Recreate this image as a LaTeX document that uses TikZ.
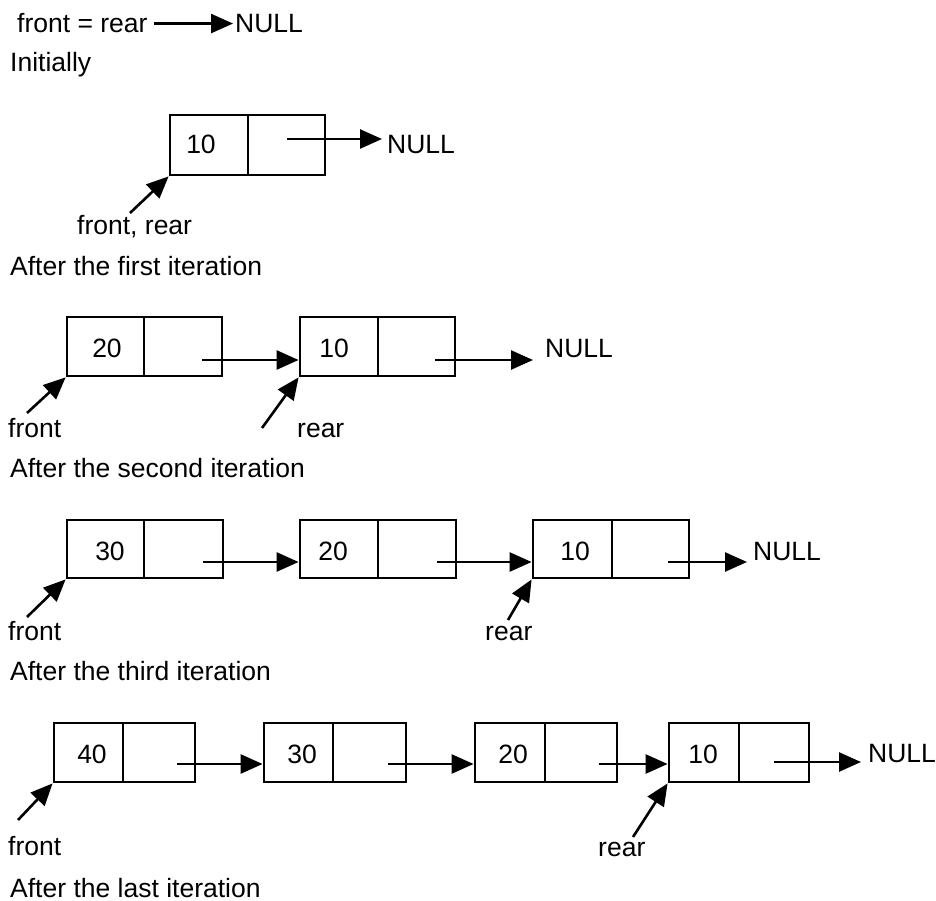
\documentclass[tikz,border=0pt]{standalone}
\usepackage{fontspec}
\setmainfont{Liberation Sans}
\usetikzlibrary{arrows.meta}
\begin{document}
\begin{tikzpicture}[x=1pt,y=-1pt,
  txt/.style={inner sep=0pt, anchor=base west, font=\fontsize{26.5pt}{30pt}\selectfont},
  num/.style={inner sep=0pt, anchor=base, font=\fontsize{26.5pt}{30pt}\selectfont},
  cell/.style={draw, line width=2.8pt, inner sep=0pt, minimum height=59pt},
  link/.style={line width=2.6pt, -{Triangle[length=22pt,width=19pt]}},
]
\useasboundingbox[fill=white] (0,0) rectangle (936,901);

% ---------- Initially ----------
\node[txt] (t0) at (17,33) {front = rear};
\node[txt] (null0) at (235,33) {NULL};
\draw[link, shorten <=6pt, shorten >=2pt] (t0.east) -- (null0.west |- t0.east);
\node[txt] (init) at (10,72) {Initially};

% ---------- first iteration ----------
\node[cell, minimum width=78pt, minimum height=60pt] (r1a) at (209,145) {};
\node[cell, minimum width=77pt, minimum height=60pt] (r1b) at (286.5,145) {};
\node[num] (n1) at (201,154) {10};
\node[txt] (null1) at (387,154) {NULL};
\coordinate (s1) at (287,139);
\draw[link, shorten >=5pt] (s1) -- (null1.west |- s1);
\coordinate (p1) at (130,213);
\draw[link] (p1) -- (r1a.south west);
\node[txt] (l1) at (77,235) {front, rear};
\node[txt] (c1) at (10,275) {After the first iteration};

% ---------- second iteration ----------
\node[cell, minimum width=77pt] (r2a1) at (105.5,346.5) {};
\node[cell, minimum width=78pt] (r2b1) at (183,346.5) {};
\node[cell, minimum width=78pt] (r2a2) at (339,346.5) {};
\node[cell, minimum width=77pt] (r2b2) at (416.5,346.5) {};
\node[num] (n21) at (107,357) {20};
\node[num] (n22) at (334,357) {10};
\node[txt] (null2) at (545,357) {NULL};
\coordinate (s21) at (202,360);
\coordinate (s22) at (435,360);
\draw[link] (s21) -- (r2a2.west |- s21);
\draw[link, shorten >=12pt] (s22) -- (null2.west |- s22);
\coordinate (f2) at (27,413);
\coordinate (q2) at (262,428);
\draw[link] (f2) -- (r2a1.south west);
\draw[link] (q2) -- (r2a2.south west);
\node[txt] (lf2) at (8,437) {front};
\node[txt] (lr2) at (297,437) {rear};
\node[txt] (c2) at (10,477) {After the second iteration};

% ---------- third iteration ----------
\node[cell, minimum width=77pt, minimum height=58pt] (r3a1) at (105.5,549) {};
\node[cell, minimum width=79pt, minimum height=58pt] (r3b1) at (183.5,549) {};
\node[cell, minimum width=78pt, minimum height=58pt] (r3a2) at (339,549) {};
\node[cell, minimum width=78pt, minimum height=58pt] (r3b2) at (417,549) {};
\node[cell, minimum width=79pt, minimum height=58pt] (r3a3) at (572.5,549) {};
\node[cell, minimum width=77pt, minimum height=58pt] (r3b3) at (650.5,549) {};
\node[num] (n31) at (110,560) {30};
\node[num] (n32) at (333,560) {20};
\node[num] (n33) at (575,560) {10};
\node[txt] (null3) at (753,560) {NULL};
\coordinate (s31) at (203,562);
\coordinate (s32) at (437,562);
\coordinate (s33) at (668,562);
\draw[link] (s31) -- (r3a2.west |- s31);
\draw[link] (s32) -- (r3a3.west |- s32);
\draw[link, shorten >=6pt] (s33) -- (null3.west |- s33);
\coordinate (f3) at (27,617);
\coordinate (q3) at (508,620);
\draw[link] (f3) -- (r3a1.south west);
\draw[link] (q3) -- (r3a3.south west);
\node[txt] (lf3) at (8,640) {front};
\node[txt] (lr3) at (485,640) {rear};
\node[txt] (c3) at (10,680) {After the third iteration};

% ---------- last iteration ----------
\node[cell, minimum width=69pt] (r4a1) at (88.5,752.5) {};
\node[cell, minimum width=72pt] (r4b1) at (159,752.5) {};
\node[cell, minimum width=69pt] (r4a2) at (298.5,752.5) {};
\node[cell, minimum width=73pt] (r4b2) at (369.5,752.5) {};
\node[cell, minimum width=70pt] (r4a3) at (510,752.5) {};
\node[cell, minimum width=72pt] (r4b3) at (581,752.5) {};
\node[cell, minimum width=70pt] (r4a4) at (704,752.5) {};
\node[cell, minimum width=70pt] (r4b4) at (774,752.5) {};
\node[num] (n41) at (92,763) {40};
\node[num] (n42) at (302,763) {30};
\node[num] (n43) at (513,763) {20};
\node[num] (n44) at (703,763) {10};
\node[txt] (null4) at (868,762) {NULL};
\coordinate (s41) at (177,764);
\coordinate (s42) at (388,764);
\coordinate (s43) at (599,764);
\coordinate (s44) at (774,762);
\draw[link] (s41) -- (r4a2.west |- s41);
\draw[link] (s42) -- (r4a3.west |- s42);
\draw[link] (s43) -- (r4a4.west |- s43);
\draw[link, shorten >=7pt] (s44) -- (null4.west |- s44);
\coordinate (f4) at (18,820);
\coordinate (q4) at (633,837);
\draw[link] (f4) -- (r4a1.south west);
\draw[link] (q4) -- (r4a4.south west);
\node[txt] (lf4) at (8,855) {front};
\node[txt] (lr4) at (598,856) {rear};
\node[txt] (c4) at (10,897) {After the last iteration};
\end{tikzpicture}
\end{document}
